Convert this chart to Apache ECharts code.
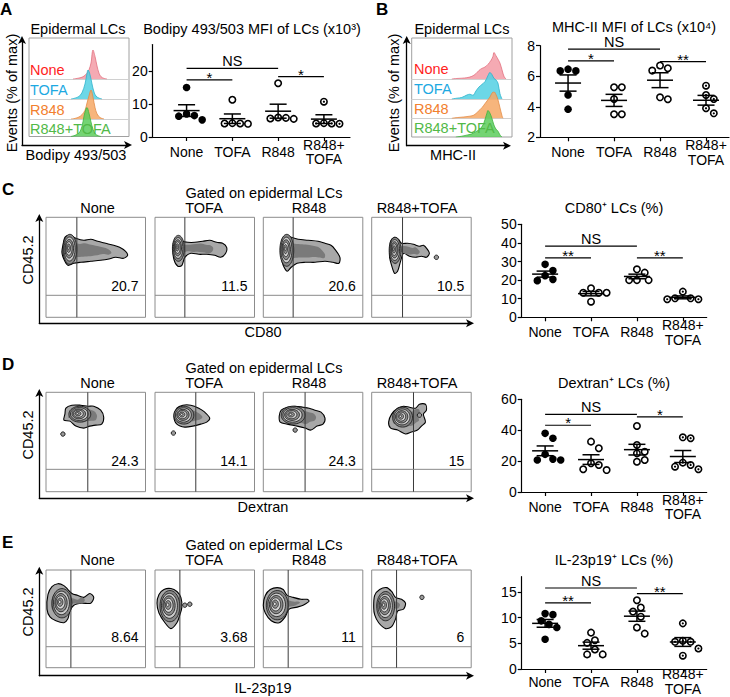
<!DOCTYPE html>
<html><head><meta charset="utf-8">
<script src="https://cdn.jsdelivr.net/npm/echarts@6/dist/echarts.min.js"></script>
<style>html,body{margin:0;padding:0;background:#fff}#c{width:730px;height:697px}</style>
</head><body><div id="c"></div>
<script>
const FONT = '"Liberation Sans", Arial, Helvetica, sans-serif';
const FS = 14.5;
const groupNames = ['None', 'TOFA', 'R848', 'R848+TOFA'];
const xTickLabels = ['None', 'TOFA', 'R848', 'R848+\nTOFA'];

// ---------- Histograms: [fluorescence (% of box width), events (% of max)] ----------
const histBodipyNone = [[44,0],[48,2],[52,5],[55,10],[58,20],[60,32],[62,55],[64,100],[66,78],[68,45],[70,20],[72,8],[75,2],[78,0]];
const histBodipyTofa = [[42,0],[46,3],[50,9],[53,22],[56,52],[58,88],[59,100],[61,84],[63,52],[65,24],[67,10],[70,3],[73,0]];
const histBodipyR848 = [[42,0],[46,2],[50,7],[53,15],[56,30],[58,55],[60,80],[62,100],[64,75],[66,40],[68,18],[71,5],[75,0]];
const histBodipyR848Tofa = [[42,0],[46,4],[50,12],[53,35],[55,70],[57,95],[58,100],[60,80],[62,50],[64,25],[66,10],[69,3],[72,0]];

const histMhcNone = [[40,0],[45,2],[50,3],[55,5],[60,10],[64,20],[67,32],[70,40],[73,45],[76,55],[79,70],[81,85],[82,100],[84,88],[86,75],[88,60],[90,35],[92,10],[94,0]];
const histMhcTofa = [[40,0],[45,3],[50,6],[55,15],[58,18],[61,14],[64,30],[67,45],[70,55],[73,65],[76,88],[78,100],[80,92],[82,78],[84,72],[86,60],[88,20],[90,0]];
const histMhcR848 = [[40,0],[46,3],[52,5],[58,8],[62,12],[66,25],[70,40],[73,55],[76,70],[78,80],[80,95],[82,100],[84,90],[86,70],[88,40],[90,10],[91,0]];
const histMhcR848Tofa = [[44,0],[50,3],[56,8],[60,12],[64,20],[68,30],[71,45],[73,65],[75,90],[76,100],[78,90],[80,70],[82,45],[84,30],[86,22],[88,8],[90,0]];

// ---------- Dot plots ----------
const bodipyNone = [15, 5.2, 6.3, 7, 6.5];
const bodipyTofa = [11.3, 4.1, 4.0, 4.2, 4.1];
const bodipyR848 = [16.3, 5.5, 5.8, 5.6, 5.9];
const bodipyR848Tofa = [10.7, 4.1, 4.0, 4.2, 4.1];
const bodipySig = [[1, 2, 17.3, '*'], [1, 3, 20.8, 'NS'], [3, 4, 18.3, '*']];

const mhcNone = [6.35, 6.46, 6.35, 4.77, 3.84];
const mhcTofa = [5.28, 5.28, 4.51, 3.51, 3.51];
const mhcR848 = [6.7, 6.37, 6.52, 4.49, 4.62];
const mhcR848Tofa = [5.38, 4.77, 4.51, 3.57, 3.9];
const mhcSig = [[1, 2, 7.0, '*'], [1, 3, 7.77, 'NS'], [3, 4, 6.96, '**']];

const cd80None = [28.5, 19.7, 22.4, 25.1, 20.4];
const cd80Tofa = [15.6, 13.2, 13.2, 13.2, 8.4];
const cd80R848 = [24, 25.8, 20, 20, 20];
const cd80R848Tofa = [13.8, 9.7, 10.2, 10.2, 9.7];
const cd80Sig = [[1, 2, 32, '**'], [1, 3, 38.3, 'NS'], [3, 4, 32, '**']];

const dextranNone = [38, 34.8, 24.4, 20.7, 20.7, 21.3];
const dextranTofa = [32.6, 28.3, 18.6, 17.5, 14.7, 14.2];
const dextranR848 = [42.7, 30.4, 26.1, 25, 19.6, 20.7];
const dextranR848Tofa = [34.8, 35.4, 14.7, 19, 16.4, 17.5];
const dextranSig = [[1, 2, 43.2, '*'], [1, 3, 50.3, 'NS'], [3, 4, 48.6, '*']];

const il23None = [10.8, 10.6, 9.4, 8.7, 8.1, 5.8];
const il23Tofa = [7.1, 5.6, 5.1, 3.8, 2.85, 2.85];
const il23R848 = [13.4, 12.0, 11.2, 10.2, 8.1, 6.9];
const il23R848Tofa = [8.9, 5.5, 5.3, 5.3, 4.0, 2.6];
const il23Sig = [[1, 2, 12.9, '**'], [1, 3, 15.8, 'NS'], [3, 4, 14.7, '**']];

// ---------- Flow contour plots (x: marker, y: CD45.2, both 0-100) ----------
const cd80Pct = ['20.7', '11.5', '20.6', '10.5'];
const cd80GateX = [31, 30, 30, 31];
const cd80GateY = [22, 22, 22, 22];
const cd80Outline = [
  [[17,72],[19,80],[24,82],[30,79],[38,77],[45,78],[52,76],[60,74],[68,72],[74,70],[80,66],[82,62],[78,59],[70,60],[62,58],[55,57],[45,56],[35,55],[28,54],[22,52],[18,58],[16,65]],
  [[18,70],[20,78],[24,80],[28,76],[33,75],[40,75],[48,76],[55,77],[62,75],[68,74],[72,70],[71,64],[66,60],[60,62],[52,63],[44,63],[36,64],[30,60],[27,52],[23,51],[19,58]],
  [[18,68],[19,78],[23,82],[28,80],[35,78],[45,77],[55,76],[62,74],[68,72],[72,68],[77,60],[76,54],[70,55],[62,56],[52,55],[42,55],[34,54],[28,50],[24,46],[20,52],[18,60]],
  [[18,66],[19,76],[23,80],[27,78],[30,74],[36,74],[42,73],[48,71],[52,72],[56,68],[58,64],[55,60],[50,61],[44,60],[38,61],[32,64],[29,56],[26,46],[23,44],[20,52],[18,60]]
];
const cd80Core = [[24,68,7,15],[23.5,69,6,13],[23.6,67,7,16],[23.5,67,6,13]];
const cd80Dots = [[], [], [], [[65,60]]];

const dextranPct = ['24.3', '14.1', '24.3', '15'];
const dextranGateX = [42, 41, 42, 42];
const dextranGateY = [22.5, 22.5, 22.5, 22.5];
const dextranOutline = [
  [[19,78],[20,84],[26,87],[35,87],[42,86],[48,86],[55,82],[58,75],[56,68],[50,67],[44,66],[38,64],[30,66],[24,71],[18,72]],
  [[19,76],[22,84],[28,87],[36,87],[44,84],[50,80],[55,74],[52,70],[46,68],[38,66],[30,65],[22,68]],
  [[16,76],[18,82],[24,85],[32,86],[40,85],[46,84],[52,82],[58,80],[62,74],[60,68],[54,66],[48,62],[42,64],[34,66],[24,68],[17,70]],
  [[17,70],[20,78],[26,84],[32,86],[38,85],[44,84],[48,88],[54,88],[55,82],[52,78],[54,70],[50,66],[46,62],[40,60],[34,58],[26,62],[19,64]]
];
const dextranCore = [[34,78,11,8],[29,77,10,9],[30,77,12,9],[31,75,10,10]];
const dextranDots = [[[17,58]], [[18.5,59]], [[32,62]], [[48,77]]];

const il23Pct = ['8.64', '3.68', '11', '6'];
const il23GateX = [25, 25, 25, 25];
const il23GateY = [21.5, 21.5, 21.5, 21.5];
const il23Outline = [
  [[1,60],[2,75],[6,83],[12,86],[18,84],[22,80],[26,76],[32,74],[38,72],[44,76],[48,72],[45,66],[36,66],[28,64],[24,58],[22,50],[18,46],[10,48],[4,52]],
  [[2,66],[4,75],[9,80],[16,81],[22,78],[26,72],[27,62],[25,54],[22,46],[16,40],[10,46],[4,56]],
  [[0,64],[2,74],[7,80],[14,82],[20,80],[24,74],[30,72],[38,70],[44,70],[46,68],[40,64],[34,62],[26,60],[22,52],[16,46],[8,48],[2,56]],
  [[2,62],[3,74],[8,80],[15,82],[20,78],[24,72],[30,70],[34,66],[32,60],[26,58],[24,50],[20,42],[14,40],[7,46],[3,54]]
];
const il23Core = [[16,66,10,15],[15,63,10,16],[14,64,11,15],[14,63,9,15]];
const il23Dots = [[], [[30,64],[35,65]], [], [[50.5,72]]];

// ---------- builders ----------
const grids = [], xAxes = [], yAxes = [], series = [], graphics = [];
const histFill = ['#F39BA6', '#52D0E3', '#F6A865', '#5CCD5C'];
const histLine = ['#E2707F', '#2DB3CC', '#E38B46', '#3FB43F'];
const labelColors = ['#FF1E1E', '#1DA9E2', '#F2802E', '#52B948'];

function addGrid(g, xa, ya) {
  const gi = grids.length;
  grids.push(Object.assign({ outerBoundsMode: 'none', containLabel: false }, g));
  xAxes.push(Object.assign({ gridIndex: gi }, xa));
  yAxes.push(Object.assign({ gridIndex: gi }, ya));
  return gi;
}
const hiddenAxis = (min, max) => ({ type: 'value', min, max, show: false, splitLine: { show: false } });

function T(text, x, y, o) {
  o = o || {};
  return { type: 'text', x, y, rotation: o.rot || 0, silent: true, z: 10,
    style: { text, fontSize: o.size || FS, fontFamily: FONT, fontWeight: o.bold ? 'bold' : 'normal',
      fill: o.color || '#000', align: o.align || 'center', verticalAlign: o.va || 'middle' } };
}

function arrowAxes(left, top, right, bottom) {
  const al = { show: true, onZero: false, symbol: ['none', 'arrow'], symbolSize: [6, 8], symbolOffset: [0, 4], lineStyle: { color: '#000', width: 1.3 } };
  const ax = { type: 'value', min: 0, max: 1, axisLine: al, axisTick: { show: false }, axisLabel: { show: false }, splitLine: { show: false } };
  addGrid({ left, top, width: right - left, height: bottom - top, show: false }, ax, ax);
}

function histPanel(box, rowBottoms, rowH, datasets) {
  addGrid({ left: box.left, top: box.top, width: box.width, height: box.height, show: true, borderColor: '#a0a0a0', borderWidth: 1, backgroundColor: 'transparent' }, hiddenAxis(0, 100), hiddenAxis(0, 100));
  datasets.forEach((d, r) => {
    const gi = addGrid({ left: box.left, top: rowBottoms[r] - rowH, width: box.width, height: rowH, show: false },
      { type: 'value', min: 0, max: 100, axisLine: { show: r < 3, lineStyle: { color: '#d0d0d0', width: 1 } }, axisTick: { show: false }, axisLabel: { show: false }, splitLine: { show: false } },
      hiddenAxis(0, 100));
    series.push({ type: 'line', xAxisIndex: gi, yAxisIndex: gi, data: d, symbol: 'none', smooth: 0.35, silent: true,
      lineStyle: { color: histLine[r], width: 0.8 }, areaStyle: { color: histFill[r], opacity: 0.85 }, z: 2 + r });
  });
}

function swarm(values, center, pxX, pxY, d) {
  const order = values.map((v, i) => i).sort((a, b) => values[b] - values[a]);
  const placed = [], out = new Array(values.length);
  order.forEach(i => {
    const py = values[i] * pxY;
    let best = 0;
    for (let k = 0; k < 60; k++) {
      const cand = k === 0 ? 0 : (k % 2 ? 1 : -1) * Math.ceil(k / 2) * d * 0.5;
      if (placed.every(p => Math.hypot(p[0] - cand, p[1] - py) >= d)) { best = cand; break; }
    }
    placed.push([best, py]);
    out[i] = [center + best / pxX, values[i]];
  });
  return out;
}

function scatterPanel(cfg) {
  const lineStyle = { color: '#000', width: 1.2 };
  const gi = addGrid({ left: cfg.left, top: cfg.top, width: cfg.width, height: cfg.height, show: false },
    { type: 'value', min: cfg.xmin, max: cfg.xmax,
      axisLine: { show: true, onZero: false, lineStyle },
      axisTick: { show: true, customValues: [1, 2, 3, 4], length: 4, lineStyle },
      axisLabel: { show: true, customValues: [1, 2, 3, 4], formatter: v => xTickLabels[Math.round(v) - 1] || '',
        fontSize: 14, fontFamily: FONT, color: '#000', margin: cfg.labelMargin || 15, verticalAlign: 'middle', lineHeight: 14.5 },
      splitLine: { show: false } },
    { type: 'value', min: cfg.ymin, max: cfg.ymax,
      axisLine: { show: true, onZero: false, lineStyle },
      axisTick: { show: true, customValues: cfg.yticks, length: 4, lineStyle },
      axisLabel: { show: true, customValues: cfg.yticks, fontSize: 14, fontFamily: FONT, color: '#000', margin: 5 },
      splitLine: { show: false } });
  const pxX = cfg.width / (cfg.xmax - cfg.xmin), pxY = cfg.height / (cfg.ymax - cfg.ymin);
  cfg.groups.forEach((vals, k) => {
    const pts = swarm(vals, k + 1, pxX, pxY, 7.8);
    series.push({ type: 'custom', xAxisIndex: gi, yAxisIndex: gi, data: pts, z: 3, silent: true,
      renderItem(params, api) {
        const c = api.coord([api.value(0), api.value(1)]);
        const ch = [];
        if (k === 0) ch.push({ type: 'circle', shape: { cx: c[0], cy: c[1], r: 3.8 }, style: { fill: '#000' } });
        else {
          ch.push({ type: 'circle', shape: { cx: c[0], cy: c[1], r: 3.2 }, style: { fill: '#fff', stroke: '#000', lineWidth: 1.6 } });
          if (k === 3) ch.push({ type: 'circle', shape: { cx: c[0], cy: c[1], r: 1.1 }, style: { fill: '#000' } });
        }
        return { type: 'group', children: ch };
      } });
  });
  const stats = cfg.groups.map((vals, k) => {
    const n = vals.length, m = vals.reduce((a, b) => a + b, 0) / n;
    const sd = Math.sqrt(vals.reduce((a, b) => a + (b - m) * (b - m), 0) / (n - 1));
    return [k + 1, m, sd / Math.sqrt(n)];
  });
  series.push({ type: 'custom', xAxisIndex: gi, yAxisIndex: gi, data: stats, z: 4, silent: true,
    renderItem(params, api) {
      const x = api.value(0), m = api.value(1), s = api.value(2);
      const c = api.coord([x, m]), up = api.coord([x, m + s]), dn = api.coord([x, m - s]);
      const st = { stroke: '#000', lineWidth: 1.5 };
      return { type: 'group', children: [
        { type: 'line', shape: { x1: c[0] - 13, y1: c[1], x2: c[0] + 13, y2: c[1] }, style: st },
        { type: 'line', shape: { x1: c[0] - 8.5, y1: up[1], x2: c[0] + 8.5, y2: up[1] }, style: st },
        { type: 'line', shape: { x1: c[0] - 8.5, y1: dn[1], x2: c[0] + 8.5, y2: dn[1] }, style: st },
        { type: 'line', shape: { x1: c[0], y1: up[1], x2: c[0], y2: dn[1] }, style: st }
      ] };
    } });
  series.push({ type: 'custom', xAxisIndex: gi, yAxisIndex: gi, data: cfg.sig.map(s => [s[0], s[2]]), z: 4, silent: true,
    renderItem(params, api) {
      const s = cfg.sig[params.dataIndex];
      const a = api.coord([s[0], s[2]]), b = api.coord([s[1], s[2]]);
      const ns = s[3] === 'NS';
      return { type: 'group', children: [
        { type: 'line', shape: { x1: a[0], y1: a[1], x2: b[0], y2: b[1] }, style: { stroke: '#000', lineWidth: 1.2 } },
        { type: 'text', x: (a[0] + b[0]) / 2, y: ns ? a[1] + 0.5 : a[1] - 2.5,
          style: { text: s[3], fontSize: ns ? FS : 15, fontFamily: FONT, fill: '#000', align: 'center', verticalAlign: ns ? 'bottom' : 'middle' } }
      ] };
    } });
}

function ellipsePts(api, cx, cy, rx, ry) {
  const pts = [];
  for (let i = 0; i < 40; i++) {
    const t = i / 40 * Math.PI * 2;
    pts.push(api.coord([cx + rx * Math.cos(t), cy + ry * Math.sin(t)]));
  }
  return pts;
}

function flowPanel(top, height, lefts, outline, core, dots, gateX, gateY, pct) {
  for (let k = 0; k < 4; k++) {
    const gi = addGrid({ left: lefts[k], top, width: 99.5, height, show: true, borderColor: '#8c8c8c', borderWidth: 1, backgroundColor: 'transparent' },
      hiddenAxis(0, 100), hiddenAxis(0, 100));
    const poly = outline[k], co = core[k], dd = dots[k];
    series.push({ type: 'custom', xAxisIndex: gi, yAxisIndex: gi, data: [[co[0], co[1]]], z: 2, silent: true,
      renderItem(params, api) {
        const ch = [];
        ch.push({ type: 'polygon', shape: { points: poly.map(p => api.coord(p)), smooth: 0.3 }, style: { fill: '#a8a8a8', stroke: '#000', lineWidth: 1.1 } });
        const inner = poly.map(p => api.coord([co[0] + (p[0] - co[0]) * 0.72, co[1] + (p[1] - co[1]) * 0.6]));
        ch.push({ type: 'polygon', shape: { points: inner, smooth: 0.3 }, style: { fill: '#7a7a7a' } });
        const fr = [1, 0.8, 0.62, 0.45, 0.28, 0.12];
        const fills = ['#858585', '#c9c9c9', '#8f8f8f', '#d5d5d5', '#999999', '#e6e6e6'];
        fr.forEach((f, i) => {
          const shift = (1 - f) * 0.25;
          ch.push({ type: 'polygon', shape: { points: ellipsePts(api, co[0] - co[2] * shift, co[1] + co[3] * shift * 0.4, co[2] * f, co[3] * f) },
            style: { fill: fills[i], stroke: '#111', lineWidth: 0.8 } });
        });
        dd.forEach(p => {
          const c = api.coord(p);
          ch.push({ type: 'circle', shape: { cx: c[0], cy: c[1], r: 2.2 }, style: { fill: '#9a9a9a', stroke: '#000', lineWidth: 0.8 } });
        });
        return { type: 'group', children: ch };
      } });
    const gx = gateX[k], gy = gateY[k], label = pct[k];
    series.push({ type: 'custom', xAxisIndex: gi, yAxisIndex: gi, data: [[gx, gy]], z: 5, silent: true,
      renderItem(params, api) {
        const v0 = api.coord([gx, 0]), v1 = api.coord([gx, 100]);
        const h0 = api.coord([0, gy]), h1 = api.coord([100, gy]);
        const tp = api.coord([93, 31]);
        return { type: 'group', children: [
          { type: 'line', shape: { x1: v0[0], y1: v0[1], x2: v1[0], y2: v1[1] }, style: { stroke: '#3a3a3a', lineWidth: 1 } },
          { type: 'line', shape: { x1: h0[0], y1: h0[1], x2: h1[0], y2: h1[1] }, style: { stroke: '#8a8a8a', lineWidth: 1 } },
          { type: 'text', x: tp[0], y: tp[1], style: { text: label, fontSize: 14, fontFamily: FONT, fill: '#000', align: 'right', verticalAlign: 'middle' } }
        ] };
      } });
  }
}

// ---------- Panel A ----------
arrowAxes(22, 40, 128, 145);
histPanel({ left: 29, top: 38, width: 100, height: 98.5 }, [79, 99, 119, 136.5], 29,
  [histBodipyNone, histBodipyTofa, histBodipyR848, histBodipyR848Tofa]);
scatterPanel({ left: 152.7, top: 44.6, width: 197.3, height: 92.4, xmin: 0.26, xmax: 4.57, ymin: 0, ymax: 28, yticks: [0, 10, 20],
  groups: [bodipyNone, bodipyTofa, bodipyR848, bodipyR848Tofa], sig: bodipySig });

// ---------- Panel B ----------
arrowAxes(406.7, 40, 507, 145.7);
histPanel({ left: 411.7, top: 38, width: 100.3, height: 99 }, [79, 99, 118.3, 137], 26.5,
  [histMhcNone, histMhcTofa, histMhcR848, histMhcR848Tofa]);
scatterPanel({ left: 540, top: 45.7, width: 189, height: 91.6, xmin: 0.39, xmax: 4.5, ymin: 2, ymax: 8, yticks: [2, 4, 6, 8],
  groups: [mhcNone, mhcTofa, mhcR848, mhcR848Tofa], sig: mhcSig });

// ---------- Panels C, D, E ----------
const flowLefts = [46, 155, 263.3, 371.7];
arrowAxes(39.3, 218, 470, 323.3);
flowPanel(217.3, 100, flowLefts, cd80Outline, cd80Core, cd80Dots, cd80GateX, cd80GateY, cd80Pct);
scatterPanel({ left: 521.7, top: 224.3, width: 185, height: 93, xmin: 0.49, xmax: 4.52, ymin: 0, ymax: 50, yticks: [0, 10, 20, 30, 40, 50],
  groups: [cd80None, cd80Tofa, cd80R848, cd80R848Tofa], sig: cd80Sig });

arrowAxes(39.3, 393, 470, 498.3);
flowPanel(392.3, 99.4, flowLefts, dextranOutline, dextranCore, dextranDots, dextranGateX, dextranGateY, dextranPct);
scatterPanel({ left: 521.7, top: 399.3, width: 185, height: 92.7, xmin: 0.49, xmax: 4.52, ymin: 0, ymax: 60, yticks: [0, 20, 40, 60],
  groups: [dextranNone, dextranTofa, dextranR848, dextranR848Tofa], sig: dextranSig });

arrowAxes(39.3, 570.7, 470, 675.7);
flowPanel(570, 97.7, flowLefts, il23Outline, il23Core, il23Dots, il23GateX, il23GateY, il23Pct);
scatterPanel({ left: 521.7, top: 576.7, width: 185, height: 92.3, xmin: 0.49, xmax: 4.52, ymin: 0, ymax: 18, yticks: [0, 5, 10, 15],
  labelMargin: 12.5, groups: [il23None, il23Tofa, il23R848, il23R848Tofa], sig: il23Sig });

// ---------- Texts ----------
const rot = Math.PI / 2;
graphics.push(
  T('A', 0, 1, { bold: true, size: 17, align: 'left', va: 'top' }),
  T('Epidermal LCs', 78, 29),
  T('Bodipy 493/503 MFI of LCs (x10³)', 252, 29),
  T('Events (% of max)', 12, 93, { rot }),
  T('Bodipy 493/503', 76, 155),
  T('B', 376, 1, { bold: true, size: 17, align: 'left', va: 'top' }),
  T('Epidermal LCs', 462, 29),
  T('MHC-II MFI of LCs (x10⁴)', 634, 26.5),
  T('Events (% of max)', 394, 93, { rot }),
  T('MHC-II', 453, 155)
);
[70, 90, 110, 129].forEach((y, r) => graphics.push(T(groupNames[r], 30, y, { align: 'left', color: labelColors[r] })));
[69, 89, 109, 128].forEach((y, r) => graphics.push(T(groupNames[r], 414, y, { align: 'left', color: labelColors[r] })));

const flowSubX = [97.5, 204, 309, 417];
[['C', 181, 193.3, 208.3, 260, 'CD80', 332, 'CD80⁺ LCs (%)'],
 ['D', 356, 368.3, 383.3, 435, 'Dextran', 507, 'Dextran⁺ LCs (%)'],
 ['E', 534, 545, 560, 612, 'IL-23p19', 688, 'IL-23p19⁺ LCs (%)']].forEach(p => {
  graphics.push(T(p[0], 2, p[1], { bold: true, size: 17, align: 'left', va: 'top' }));
  graphics.push(T('Gated on epidermal LCs', 264, p[2]));
  groupNames.forEach((g, k) => graphics.push(T(g, flowSubX[k], p[3])));
  graphics.push(T('CD45.2', 28, p[4], { rot }));
  graphics.push(T(p[5], 263, p[6]));
  graphics.push(T(p[7], 614, p[3]));
});

const chart = echarts.init(document.getElementById('c'), null, { renderer: 'svg', width: 730, height: 697 });
chart.setOption({
  animation: false,
  backgroundColor: '#fff',
  grid: grids, xAxis: xAxes, yAxis: yAxes, series, graphic: graphics
});
</script></body></html>
